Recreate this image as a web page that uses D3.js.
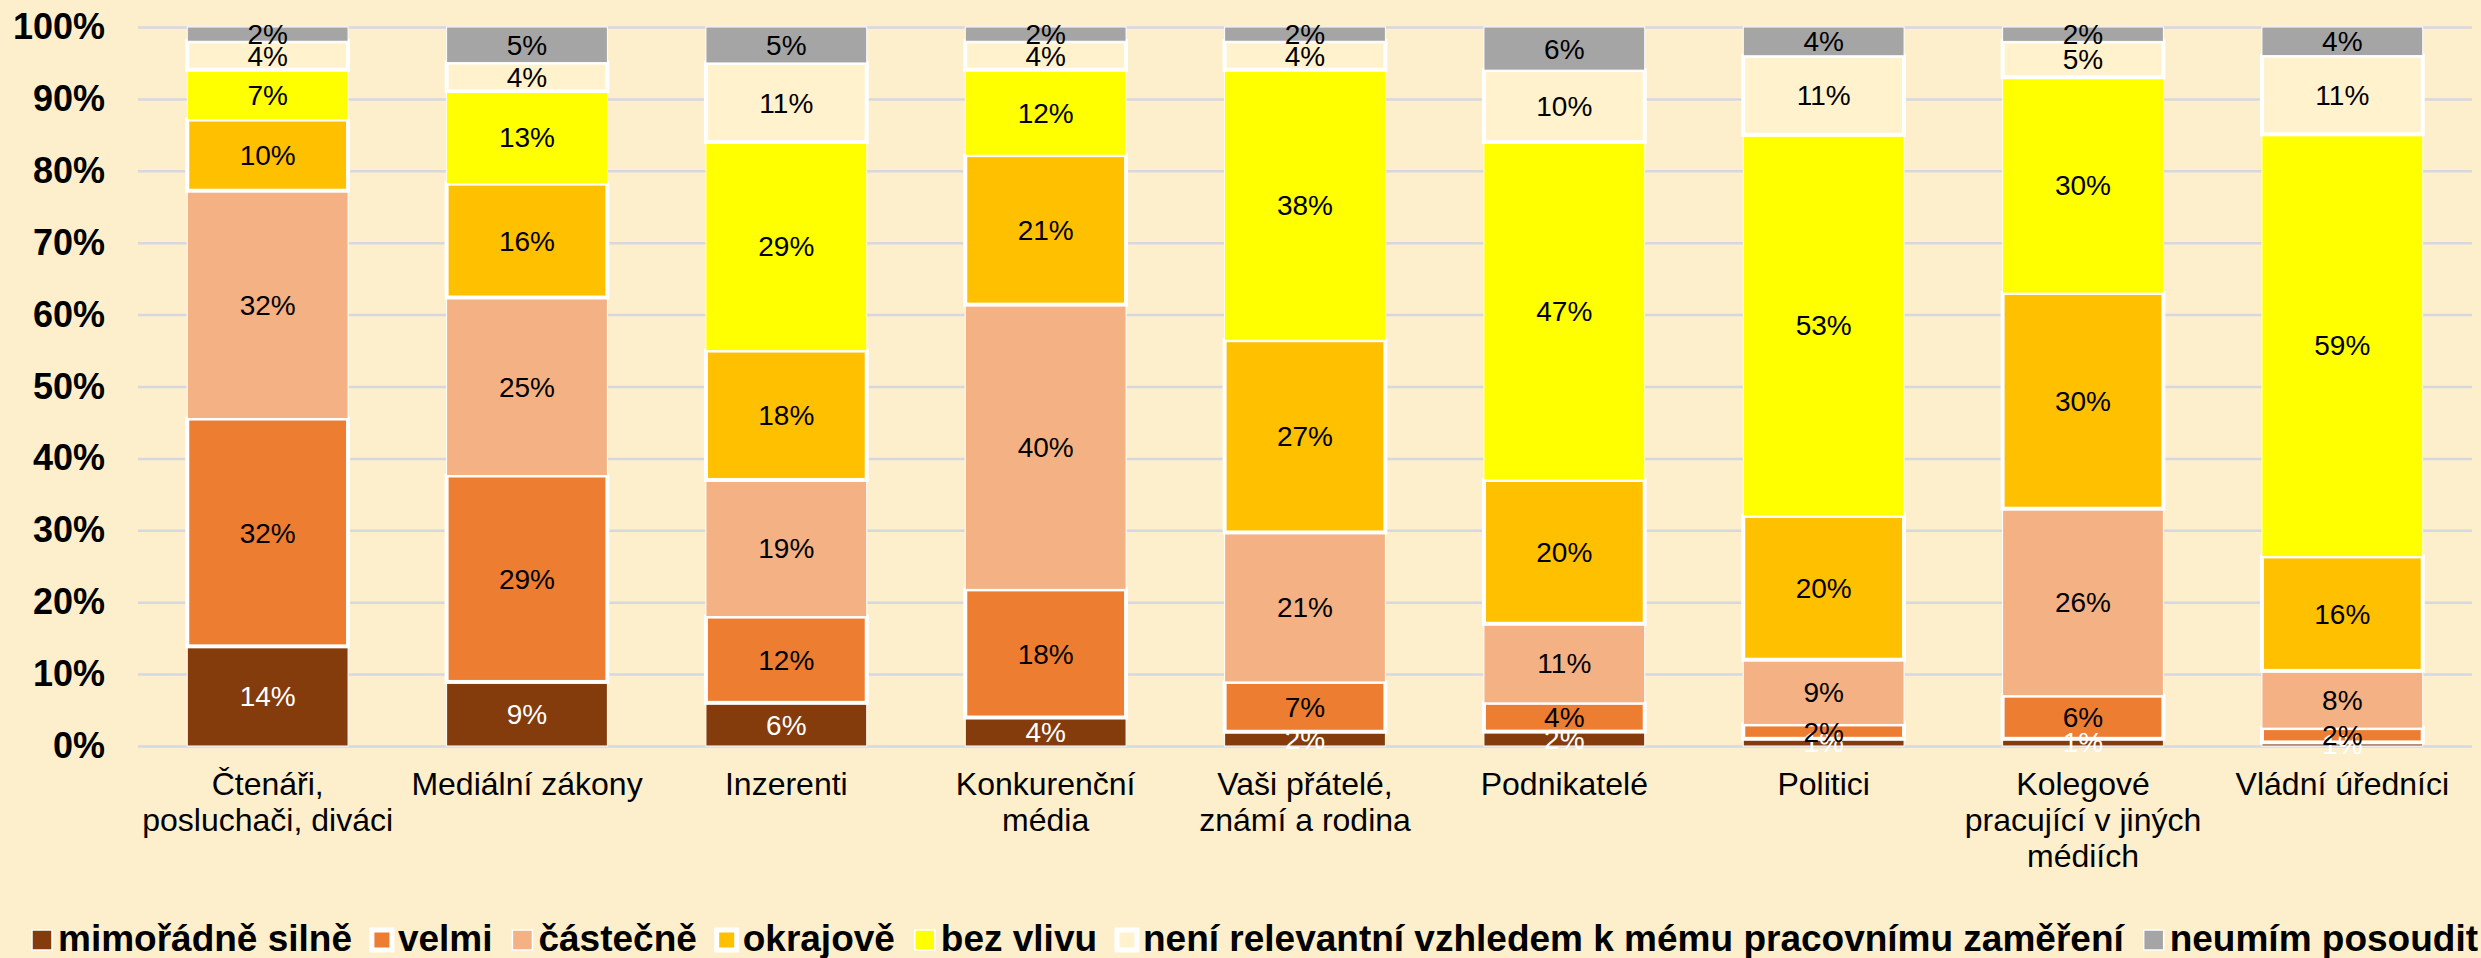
<!DOCTYPE html>
<html><head><meta charset="utf-8">
<script src="https://cdn.jsdelivr.net/npm/d3@7"></script>
<style>html,body{margin:0;padding:0;background:#FDEFCB;} svg{display:block}</style>
</head><body>
<svg id="chart" width="2481" height="958"></svg>
<script>
const categories = ["Čtenáři, posluchači, diváci", "Mediální zákony", "Inzerenti", "Konkurenční média", "Vaši přátelé, známí a rodina", "Podnikatelé", "Politici", "Kolegové pracující v jiných médiích", "Vládní úředníci"];
const seriesNames = ["mimořádně silně", "velmi", "částečně", "okrajově", "bez vlivu", "není relevantní vzhledem k mému pracovnímu zaměření", "neumím posoudit"];
const mimoradneSilne = [14, 9, 6, 4, 2, 2, 1, 1, 0.5];
const velmi = [32, 29, 12, 18, 7, 4, 2, 6, 2];
const castecne = [32, 25, 19, 40, 21, 11, 9, 26, 8];
const okrajove = [10, 16, 18, 21, 27, 20, 20, 30, 16];
const bezVlivu = [7, 13, 29, 12, 38, 47, 53, 30, 59];
const neniRelevantni = [4, 4, 11, 4, 4, 10, 11, 5, 11];
const neumimPosoudit = [2, 5, 5, 2, 2, 6, 4, 2, 4];
const yTicks = [0, 0.1, 0.2, 0.3, 0.4, 0.5, 0.6, 0.7, 0.8, 0.9, 1];

const seriesValues = [mimoradneSilne, velmi, castecne, okrajove, bezVlivu, neniRelevantni, neumimPosoudit];
const colors = ["#843C0C", "#ED7D31", "#F4B183", "#FFC000", "#FFFF00", "#FFF2CC", "#A5A5A5"];
const strokeW = [1, 4, 1, 4, 0.8, 4, 1];
const labelColors = ["#FFFFFF", "#000", "#000", "#000", "#000", "#000", "#000"];

const W = 2481, H = 958;
const X0 = 138, X1 = 2472, Y0 = 746, Y1 = 27;
const FONT = "'Liberation Sans', Arial, sans-serif";

const svg = d3.select("#chart");
svg.append("rect").attr("width", W).attr("height", H).attr("fill", "#FDEFCB");

const table = categories.map((c, i) => {
  const o = { category: c };
  seriesNames.forEach((s, k) => o[s] = seriesValues[k][i]);
  return o;
});
const stacked = d3.stack().keys(seriesNames).offset(d3.stackOffsetExpand)(table);

const x = d3.scaleBand().domain(categories).range([X0, X1]).paddingInner(0.38).paddingOuter(0.19);
const y = d3.scaleLinear().domain([0, 1]).range([Y0, Y1]);

const yAxis = d3.axisLeft(y).tickValues(yTicks).tickFormat(d3.format(".0%"))
  .tickSize(-(X1 - X0)).tickPadding(33);
const ga = svg.append("g").attr("transform", `translate(${X0},0)`).call(yAxis);
ga.select(".domain").remove();
ga.selectAll(".tick line").attr("stroke", "#D6D8E0").attr("stroke-width", 2.5);
ga.selectAll(".tick text").attr("font-family", FONT).attr("font-weight", "bold")
  .attr("font-size", 36).attr("fill", "#000");

const layers = svg.append("g").selectAll("g").data(stacked).join("g")
  .attr("fill", (d, i) => colors[i])
  .attr("stroke", "#FFFFFF")
  .attr("stroke-width", (d, i) => strokeW[i]);
layers.selectAll("rect").data(d => d).join("rect")
  .attr("x", d => x(d.data.category))
  .attr("y", d => y(d[1]))
  .attr("width", x.bandwidth())
  .attr("height", d => y(d[0]) - y(d[1]));

const lbl = svg.append("g");
stacked.forEach((layer, i) => {
  lbl.append("g").selectAll("text").data(layer).join("text")
    .attr("x", d => x(d.data.category) + x.bandwidth() / 2)
    .attr("y", d => (y(d[0]) + y(d[1])) / 2)
    .attr("dy", "0.36em")
    .attr("text-anchor", "middle")
    .attr("font-family", FONT).attr("font-size", 28)
    .attr("fill", labelColors[i])
    .text(d => Math.round(d.data[layer.key]) + "%");
});

// category labels
const xAxis = d3.axisBottom(x).tickSize(0).tickPadding(0);
const gx = svg.append("g").attr("transform", `translate(0,${Y0})`).call(xAxis);
gx.select(".domain").remove();
gx.selectAll(".tick text").attr("font-family", FONT).attr("font-size", 32).attr("fill", "#000")
  .each(function(d) {
    const t = d3.select(this);
    const words = d.split(" ");
    t.text(null);
    const maxW = 256;
    let line = [], lines = [];
    const tmp = t.append("tspan");
    words.forEach(w => {
      line.push(w);
      tmp.text(line.join(" "));
      if (tmp.node().getComputedTextLength() > maxW && line.length > 1) {
        line.pop(); lines.push(line.join(" ")); line = [w];
      }
    });
    lines.push(line.join(" "));
    tmp.remove();
    t.attr("y", 0).attr("dy", null);
    lines.forEach((ln, k) => {
      t.append("tspan").attr("x", 0).attr("y", 49 + k * 36).text(ln);
    });
  });

// legend
const leg = svg.append("g");
const SQ = 20, GAP_ST = 6, LX0 = 32, LX1 = 2478, LBASE = 951;
const items = leg.selectAll("g").data(seriesNames).join("g");
items.append("rect").attr("width", SQ).attr("height", SQ).attr("y", LBASE - 21)
  .attr("fill", (d, i) => colors[i]).attr("stroke", "#FFFFFF").attr("stroke-width", (d, i) => strokeW[i] > 2 ? 5 : 1.5);
items.append("text").attr("x", SQ + GAP_ST).attr("y", LBASE)
  .attr("font-family", FONT).attr("font-weight", "bold").attr("font-size", 37).attr("fill", "#000")
  .text(d => d);
const widths = [];
items.select("text").each(function() { widths.push(this.getComputedTextLength()); });
const totalFixed = d3.sum(widths) + seriesNames.length * (SQ + GAP_ST);
const gapItem = (LX1 - LX0 - totalFixed) / (seriesNames.length - 1);
let cx = LX0;
items.attr("transform", (d, i) => { const t = `translate(${cx},0)`; cx += SQ + GAP_ST + widths[i] + gapItem; return t; });
</script>
</body></html>
